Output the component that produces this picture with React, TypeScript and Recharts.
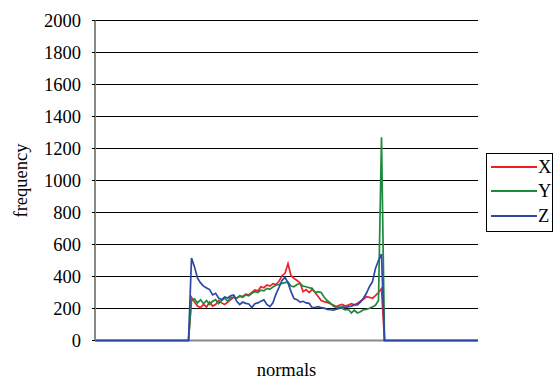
import { CartesianGrid, Line, LineChart, ReferenceLine, XAxis, YAxis } from 'recharts';

// histogram bins of the normal components (bin index only, axis carries no labels)
const bins = Array.from({ length: 128 }, (_, i) => i);

const yTicks = [0, 200, 400, 600, 800, 1000, 1200, 1400, 1600, 1800, 2000];

const xCounts = [
  0, 0, 0, 0, 0, 0, 0, 0, 0, 0, 0, 0, 0, 0, 0, 0,
  0, 0, 0, 0, 0, 0, 0, 0, 0, 0, 0, 0, 0, 0, 0, 0,
  270, 240, 215, 205, 225, 210, 240, 215, 225, 250, 235, 225, 240, 255, 270, 265,
  280, 275, 290, 285, 300, 316, 310, 336, 330, 347, 340, 355, 350, 370, 405, 420,
  480, 405, 388, 375, 360, 305, 318, 300, 320, 300, 275, 250, 243, 238, 230, 222,
  212, 220, 225, 215, 222, 230, 223, 233, 245, 258, 274, 270, 264, 280, 300, 325,
  0, 0, 0, 0, 0, 0, 0, 0, 0, 0, 0, 0, 0, 0, 0, 0,
  0, 0, 0, 0, 0, 0, 0, 0, 0, 0, 0, 0, 0, 0, 0, 0
];

const yCounts = [
  0, 0, 0, 0, 0, 0, 0, 0, 0, 0, 0, 0, 0, 0, 0, 0,
  0, 0, 0, 0, 0, 0, 0, 0, 0, 0, 0, 0, 0, 0, 0, 0,
  250, 260, 235, 255, 230, 250, 225, 245, 255, 230, 250, 265, 245, 270, 270, 265,
  275, 270, 285, 280, 295, 305, 300, 315, 310, 326, 320, 335, 345, 350, 357, 362,
  365, 340, 336, 350, 357, 340, 336, 330, 326, 300, 305, 300, 270, 250, 235, 215,
  205, 210, 200, 192, 195, 172, 190, 172, 180, 192, 195, 202, 210, 220, 250, 1270,
  0, 0, 0, 0, 0, 0, 0, 0, 0, 0, 0, 0, 0, 0, 0, 0,
  0, 0, 0, 0, 0, 0, 0, 0, 0, 0, 0, 0, 0, 0, 0, 0
];

const zCounts = [
  0, 0, 0, 0, 0, 0, 0, 0, 0, 0, 0, 0, 0, 0, 0, 0,
  0, 0, 0, 0, 0, 0, 0, 0, 0, 0, 0, 0, 0, 0, 0, 0,
  515, 460, 390, 360, 340, 328, 318, 285, 295, 265, 255, 272, 266, 280, 285, 245,
  225, 240, 232, 228, 206, 230, 235, 245, 254, 225, 212, 235, 290, 330, 375, 395,
  360, 305, 262, 255, 240, 245, 235, 232, 205, 208, 212, 205, 202, 195, 192, 190,
  195, 200, 212, 205, 212, 215, 222, 223, 240, 264, 295, 336, 367, 450, 500, 540,
  0, 0, 0, 0, 0, 0, 0, 0, 0, 0, 0, 0, 0, 0, 0, 0,
  0, 0, 0, 0, 0, 0, 0, 0, 0, 0, 0, 0, 0, 0, 0, 0
];

const series = [
  { key: 'x', name: 'X', color: '#ee1f26' },
  { key: 'y', name: 'Y', color: '#1d8a3e' },
  { key: 'z', name: 'Z', color: '#2d48a6' }
];

const FONT = '"Liberation Serif", "Times New Roman", serif';

const data = bins.map((bin, i) => ({
  bin,
  x: xCounts[i],
  y: yCounts[i],
  z: zCounts[i]
}));

function FrequencyLabel(props: any) {
  const { viewBox } = props;
  const cx = viewBox.x + 27;
  const cy = viewBox.y + viewBox.height / 2;
  return (
    <text
      x={cx}
      y={cy}
      transform={`rotate(-90, ${cx}, ${cy})`}
      textAnchor="middle"
      fontFamily={FONT}
      fontSize={18.5}
      fill="#000"
    >
      frequency
    </text>
  );
}

function LegendBox() {
  return (
    <div
      style={{
        position: 'absolute',
        left: 486,
        top: 153,
        width: 67,
        height: 79,
        border: '1px solid #000',
        boxSizing: 'border-box',
        background: '#fff',
        fontFamily: FONT,
        fontSize: 18.5
      }}
    >
      {series.map((s, i) => (
        <div
          key={s.key}
          style={{
            position: 'absolute',
            left: 4,
            top: 1 + i * 24.3,
            height: 24,
            display: 'flex',
            alignItems: 'center'
          }}
        >
          <svg width={46} height={4} style={{ display: 'block' }}>
            <line x1={0} y1={2} x2={46} y2={2} stroke={s.color} strokeWidth={2} />
          </svg>
          <span style={{ marginLeft: 1, lineHeight: '24px' }}>{s.name}</span>
        </div>
      ))}
    </div>
  );
}

export default function App() {
  return (
    <div style={{ position: 'absolute', left: 0, top: 0, width: 554, height: 381, background: '#fff' }}>
      <LineChart
        width={554}
        height={381}
        data={data}
        margin={{ top: 20.5, right: 76, bottom: 0, left: 0 }}
      >
        <CartesianGrid vertical={false} stroke="#000" strokeWidth={1} />
        <XAxis
          dataKey="bin"
          tick={false}
          tickLine={false}
          height={40.5}
          axisLine={false}
          label={{
            value: 'normals',
            position: 'insideBottom',
            offset: 5,
            style: { fontFamily: FONT, fontSize: 18.5, fill: '#000' }
          }}
        />
        <YAxis
          width={95}
          domain={[0, 2000]}
          ticks={yTicks}
          interval={0}
          tickSize={3}
          tickMargin={11}
          tickLine={{ stroke: '#000' }}
          axisLine={{ stroke: '#888', strokeWidth: 2 }}
          tick={{ fontFamily: FONT, fontSize: 18.5, fill: '#000' }}
          label={<FrequencyLabel />}
        />
        <ReferenceLine y={0} stroke="#888" strokeWidth={2} />
        {series.map((s) => (
          <Line
            key={s.key}
            type="linear"
            dataKey={s.key}
            name={s.name}
            stroke={s.color}
            strokeWidth={1.7}
            dot={false}
            activeDot={false}
            isAnimationActive={false}
          />
        ))}
      </LineChart>
      <LegendBox />
    </div>
  );
}
